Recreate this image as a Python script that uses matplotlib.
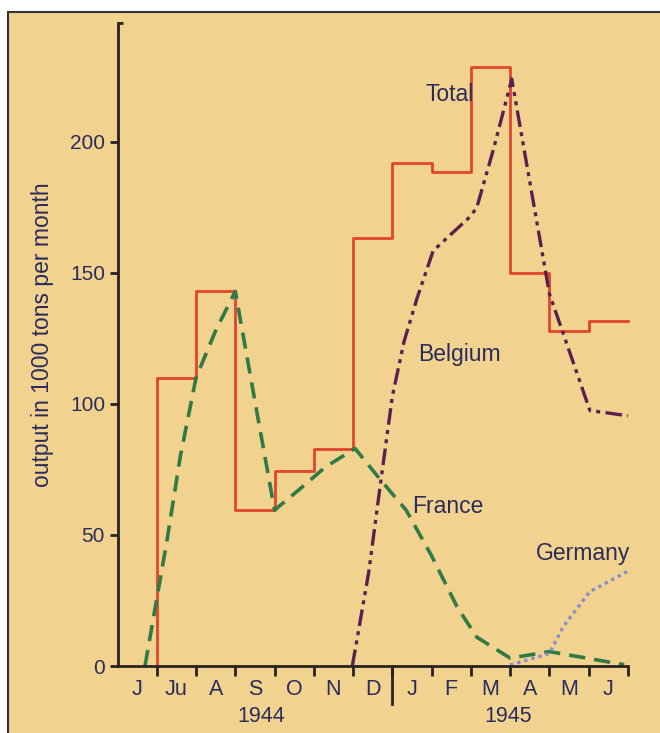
import matplotlib
matplotlib.use("Agg")
import matplotlib.pyplot as plt
from matplotlib.patches import Rectangle

plt.rcParams['font.family'] = ['Liberation Sans', 'DejaVu Sans']

# months counted from start of June 1944 (0) to end of June 1945 (13)
MONTH_LABELS = ["J", "Ju", "A", "S", "O", "N", "D", "J", "F", "M", "A", "M", "J"]
YEAR_LABELS = ["1944", "1945"]

# Total output per month, July 1944 .. June 1945 (step curve)
total_months = [1, 2, 3, 4, 5, 6, 7, 8, 9, 10, 11, 12]
total_values = [110, 143, 59.5, 74.5, 83, 163.5, 192, 188.5, 228.5, 150, 128, 131.5]

france_x = [0.7, 1.25, 1.6, 2.0, 2.5, 3.0, 3.5, 4.0, 4.6, 5.3, 6.05, 6.7, 7.35, 8.0, 8.65, 9.15, 10.0, 11.0, 12.9]
france_y = [0, 47, 80, 110, 128, 143, 101, 59.5, 67, 76, 83, 71, 59.5, 42, 22.5, 11, 3, 5.5, 0.5]

belgium_x = [5.98, 6.4, 6.7, 7.0, 7.3, 7.62, 8.04, 8.98, 9.15, 9.57, 10.04, 11.0, 12.03, 13.0]
belgium_y = [0, 36, 70, 103, 124, 140, 158.5, 171.5, 175, 197, 224, 142, 97.5, 95.5]

germany_x = [10.0, 11.0, 11.35, 12.03, 13.05]
germany_y = [0.4, 4.8, 15, 28.4, 36.6]

BG = "#f1d28e"
INK = "#2b2b5c"
AXC = "#2a2222"

fig = plt.figure(figsize=(6.6, 7.33), dpi=100)
fig.patch.set_facecolor("white")
# beige panel with a dark rule on top and left
fig.patches.append(Rectangle((8 / 660, 0), 1, 1 - 12 / 733, transform=fig.transFigure,
                             facecolor=BG, edgecolor="none", zorder=-2))
fig.lines.append(plt.Line2D([8 / 660, 1], [1 - 12 / 733] * 2, transform=fig.transFigure, color="#333333", lw=1.5))
fig.lines.append(plt.Line2D([8 / 660] * 2, [0, 1 - 12 / 733], transform=fig.transFigure, color="#333333", lw=1.5))

ax = fig.add_axes([117.5 / 660, 1 - 666 / 733, (628 - 117.5) / 660, (666 - 23) / 733])
ax.set_facecolor("none")
ax.set_xlim(0, 13)
ax.set_ylim(0, 245.4)

for s in ["top", "right"]:
    ax.spines[s].set_visible(False)
for s in ["left", "bottom"]:
    ax.spines[s].set_color(AXC)
    ax.spines[s].set_linewidth(2)

ax.set_yticks([0, 50, 100, 150, 200])
ax.tick_params(axis="y", direction="out", length=6, width=2, color=AXC,
               labelsize=15, labelcolor=INK, pad=3)
ax.set_xticks(range(1, 14))
ax.set_xticklabels([])
ax.tick_params(axis="x", direction="out", length=7, width=2, color=AXC)
# top cap of the y axis
ax.plot([0, 0.15], [245.4, 245.4], color=AXC, lw=2, clip_on=False, solid_capstyle="butt")

for i, lab in enumerate(MONTH_LABELS):
    ax.text(i + 0.5, -4.8, lab, ha="center", va="top", fontsize=15.5, color=INK, clip_on=False)
ax.text(3.65, -15.4, YEAR_LABELS[0], ha="center", va="top", fontsize=15.5, color=INK)
ax.text(9.95, -15.4, YEAR_LABELS[1], ha="center", va="top", fontsize=15.5, color=INK)
ax.plot([7, 7], [0, -14.5], color=AXC, lw=2, clip_on=False)

ax.set_ylabel("output in 1000 tons per month", fontsize=16.5, color=INK)
ax.yaxis.set_label_coords(-0.124, 0.515)

# Total: step curve
sx = [total_months[0]] + total_months + [total_months[-1] + 1]
sy = [0] + total_values + [total_values[-1]]
ax.plot(sx, sy, drawstyle="steps-post", color="#e2452c", lw=2, clip_on=False)

ax.plot(france_x, france_y, color="#2f7a45", lw=2.6, dashes=(4.5, 2.5), clip_on=False)
ax.plot(belgium_x, belgium_y, color="#5c1f4f", lw=2.4, dashes=(5, 1.6, 1.2, 1.6, 1.2, 1.6), clip_on=False)
ax.plot(germany_x, germany_y, color="#8a8ccc", lw=2.4, dashes=(1, 1.2), clip_on=False)

ax.text(8.45, 218, "Total", ha="center", va="center", fontsize=16.5, color=INK)
ax.text(8.7, 119, "Belgium", ha="center", va="center", fontsize=16.5, color=INK)
ax.text(8.4, 61, "France", ha="center", va="center", fontsize=16.5, color=INK)
ax.text(11.85, 43, "Germany", ha="center", va="center", fontsize=16.5, color=INK)

fig.savefig("out.png", dpi=100, facecolor=fig.get_facecolor())
